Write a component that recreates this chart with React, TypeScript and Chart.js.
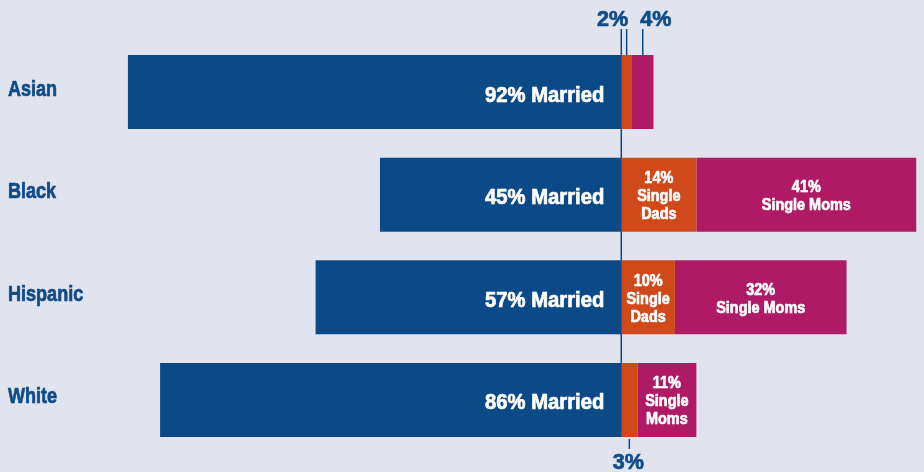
import React, { useEffect, useRef } from 'react';
import { Chart, registerables } from 'chart.js';

Chart.register(...registerables);

const categories = ['Asian', 'Black', 'Hispanic', 'White'];
const married = [92, 45, 57, 86];
const singleDads = [2, 14, 10, 3];
const singleMoms = [4, 41, 32, 11];
const seriesNames = ['Married', 'Single Dads', 'Single Moms'];

// small shares whose labels sit outside the bar (series index: 1 = dads, 2 = moms)
const outsideLabels = [
  { category: 'Asian', series: 1, side: 'top', dx: -14 },
  { category: 'Asian', series: 2, side: 'top', dx: 13 },
  { category: 'White', series: 1, side: 'bottom', dx: -1 },
];

const BG = '#e1e3ef';
const NAVY = '#0f4c88';
const COLORS = ['#0b4a87', '#cf491b', '#ae1a64'];
const FONT = '"Liberation Sans", Arial, sans-serif';

function drawText(ctx: CanvasRenderingContext2D, text: string, x: number, y: number, align: CanvasTextAlign, sx: number, color: string) {
  ctx.save();
  ctx.translate(x, y);
  ctx.scale(sx, 1);
  ctx.textAlign = align;
  ctx.textBaseline = 'alphabetic';
  ctx.fillStyle = color;
  ctx.strokeStyle = color;
  ctx.lineWidth = 0.7;
  ctx.lineJoin = 'round';
  ctx.fillText(text, 0, 0);
  ctx.strokeText(text, 0, 0);
  ctx.restore();
}

const labelPlugin = {
  id: 'labelPlugin',
  beforeDatasetsDraw(chart: any) {
    const { ctx, scales } = chart;
    const x0 = scales.x.getPixelForValue(0);
    const meta = chart.getDatasetMeta(0);
    const last = meta.data[meta.data.length - 1].getProps(['y', 'height'], true);
    ctx.save();
    ctx.strokeStyle = NAVY;
    ctx.lineWidth = 1.5;
    ctx.beginPath();
    ctx.moveTo(x0, 29);
    ctx.lineTo(x0, last.y + last.height / 2);
    ctx.stroke();
    ctx.restore();
  },
  afterDatasetsDraw(chart: any) {
    const { ctx, scales } = chart;
    const values = [married, singleDads, singleMoms];
    ctx.save();
    // category labels
    ctx.font = `bold 22px ${FONT}`;
    categories.forEach((c, i) => {
      drawText(ctx, c, 8, scales.y.getPixelForValue(i) + 3.5, 'left', 0.82, NAVY);
    });
    for (let s = 0; s < 3; s++) {
      const meta = chart.getDatasetMeta(s);
      meta.data.forEach((el: any, i: number) => {
        const p = el.getProps(['x', 'y', 'base', 'height'], true);
        const left = Math.min(p.x, p.base);
        const right = Math.max(p.x, p.base);
        const top = p.y - p.height / 2;
        const bottom = p.y + p.height / 2;
        const v = values[s][i];
        const out = outsideLabels.find((o) => o.category === categories[i] && o.series === s);
        if (out) {
          const lx = (left + right) / 2;
          ctx.strokeStyle = NAVY;
          ctx.lineWidth = 1.5;
          ctx.font = `bold 22px ${FONT}`;
          ctx.beginPath();
          if (out.side === 'top') {
            ctx.moveTo(lx, 29);
            ctx.lineTo(lx, top);
            ctx.stroke();
            drawText(ctx, `${v}%`, lx + out.dx, 26, 'center', 0.98, NAVY);
          } else {
            ctx.moveTo(lx, bottom + 2);
            ctx.lineTo(lx, bottom + 12);
            ctx.stroke();
            drawText(ctx, `${v}%`, lx + out.dx, bottom + 32, 'center', 0.98, NAVY);
          }
          return;
        }
        if (s === 0) {
          ctx.font = `bold 22px ${FONT}`;
          drawText(ctx, `${v}% ${seriesNames[0]}`, right - 17, p.y + 9.5, 'right', 0.92, '#ffffff');
        } else {
          ctx.font = `bold 17px ${FONT}`;
          const sx = 0.85;
          const word = s === 1 ? 'Dads' : 'Moms';
          let lines: string[];
          if (s === 2 && ctx.measureText('Single Moms').width * sx + 12 <= right - left) {
            lines = [`${v}%`, 'Single Moms'];
          } else {
            lines = [`${v}%`, 'Single', word];
          }
          const lh = 18;
          const cx = (left + right) / 2;
          lines.forEach((t, k) => {
            const y = p.y + 6.5 + (k - (lines.length - 1) / 2) * lh;
            drawText(ctx, t, cx, y, 'center', sx, '#ffffff');
          });
        }
      });
    }
    ctx.restore();
  },
};

export default function App() {
  const ref = useRef<HTMLCanvasElement>(null);
  useEffect(() => {
    if (!ref.current) return;
    const chart = new Chart(ref.current, {
      type: 'bar',
      data: {
        labels: categories,
        datasets: [
          { label: seriesNames[0], data: married.map((v) => -v), backgroundColor: COLORS[0] },
          { label: seriesNames[1], data: singleDads, backgroundColor: COLORS[1] },
          { label: seriesNames[2], data: singleMoms, backgroundColor: COLORS[2] },
        ].map((d) => ({ ...d, barPercentage: 0.72, categoryPercentage: 1, borderWidth: 0 })),
      },
      options: {
        indexAxis: 'y',
        animation: false,
        responsive: true,
        maintainAspectRatio: false,
        layout: { padding: { left: 85, right: 2.4, top: 40.7, bottom: 20.7 } },
        plugins: { legend: { display: false }, tooltip: { enabled: false } },
        scales: {
          x: { stacked: true, min: -100, max: 56, display: false },
          y: { stacked: true, display: false },
        },
      },
      plugins: [labelPlugin],
    });
    return () => chart.destroy();
  }, []);
  return (
    <div style={{ position: 'fixed', left: 0, top: 0, width: 924, height: 472, background: BG }}>
      <canvas ref={ref} />
    </div>
  );
}
